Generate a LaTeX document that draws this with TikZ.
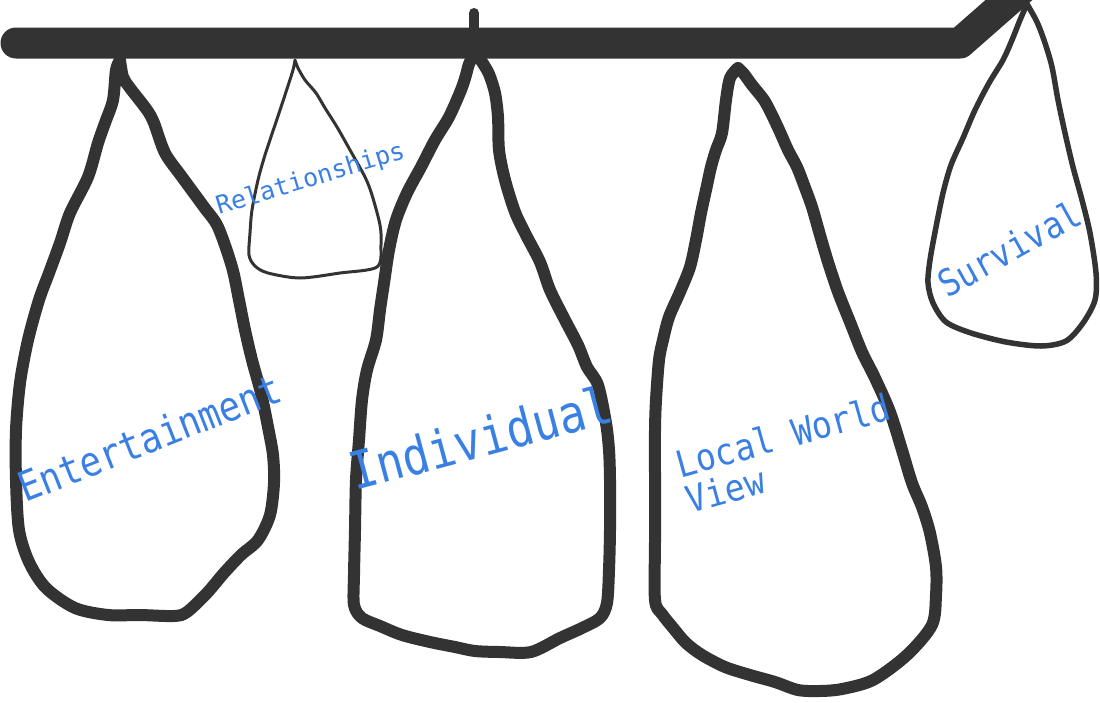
\documentclass[tikz,border=0pt]{standalone}
\usepackage{fontspec}
\usepackage{tikz}
\newfontfamily\handfont{DejaVu Sans Mono}
\definecolor{ink}{RGB}{51,51,51}
\definecolor{label}{RGB}{58,128,228}

\begin{document}
\begin{tikzpicture}[x=1pt, y=-1pt,
	bag/.style={draw=ink, line width=12pt, line join=round, line cap=round},
	thinbag/.style={draw=ink, line width=3pt, line join=round, line cap=round},
	word/.style={text=label, inner sep=0pt, anchor=base west}]
	%frame
	\useasboundingbox (0,0) rectangle (1100,702);
	\fill[white] (0,0) rectangle (1100,702);
	%pole and peg
	\draw[ink, line width=31pt, line cap=round, line join=round] (16,43) -- (960,43) -- (1009,0) -- (1045,-32);
	\draw[ink, line width=10pt, line cap=round] (474,13) -- (474,43);
	%entertainment bag
	\draw[bag] plot[smooth] coordinates {(120,60) (116,70) (113,100) (105,123) (98,143) (88,177) (70,213) (60,243) (49,273) (39,300) (28,340) (20,383) (16,430) (16,480) (19,530) (29,562) (46,588) (75,608) (108,615) (140,615) (174,616) (187,612) (207,593) (224,573) (241,555) (258,540) (270,515) (274,483) (273,455) (268,427) (261,393) (252,360) (245,330) (239,300) (232,267) (218,227) (204,207) (182,177) (165,153) (154,123) (147,110) (130,88) (123,77) (120,60)};
	%relationships bag
	\draw[thinbag] plot[smooth] coordinates {(295,60) (293,70) (285,95) (275,125) (265,155) (258,180) (252,210) (250,233) (249,255) (255,266) (268,273) (300,278) (340,273) (377,267) (381,245) (380,225) (372,195) (365,177) (350,150) (337,127) (325,108) (316,93) (305,80) (298,68) (295,60)};
	%individual bag
	\draw[bag] plot[smooth] coordinates {(475,52) (469,64) (466,75) (461,90) (449,117) (435,140) (421,167) (407,193) (396,220) (389,250) (384,283) (380,310) (376,340) (367,370) (362,400) (359,440) (356,480) (355,530) (354,575) (354,605) (362,618) (380,626) (402,635) (430,642) (455,647) (475,651) (500,652) (531,652) (560,638) (582,628) (600,618) (607,603) (609,570) (610,530) (610,480) (609,450) (606,423) (598,385) (587,367) (578,345) (565,320) (550,290) (540,262) (526,235) (515,212) (505,180) (499,150) (498,117) (495,93) (489,74) (482,62) (475,52)};
	%local world view bag
	\draw[bag] plot[smooth] coordinates {(738,68) (730,78) (726,100) (722,133) (716,150) (711,167) (706,190) (701,213) (696,240) (690,267) (680,292) (669,317) (663,340) (659,360) (656,400) (655,430) (655,480) (655,540) (655,600) (662,614) (674,629) (686,643) (702,655) (725,667) (750,675) (775,682) (798,690) (820,691) (842,689) (873,680) (907,655) (932,625) (936,595) (936,567) (930,533) (922,507) (912,483) (902,450) (890,412) (875,378) (862,352) (850,322) (838,292) (828,262) (820,235) (812,207) (804,185) (797,167) (788,150) (780,132) (772,115) (764,100) (752,85) (744,74) (738,68)};
	%survival bag
	\draw[ink, line width=5.5pt, line join=round, line cap=round] plot[smooth] coordinates {(1027,4) (1020,20) (1012,40) (1003,60) (989,83) (975,110) (963,138) (951,165) (943,193) (936,227) (930,260) (928,283) (933,303) (946,322) (971,333) (1006,342) (1041,346) (1066,341) (1083,323) (1095,300) (1096,273) (1090,233) (1082,200) (1073,167) (1065,133) (1058,100) (1052,67) (1045,43) (1037,22) (1027,4)};
	%labels
	\node[word, rotate=21.5, xscale=0.87, font=\handfont\fontsize{41}{41}\selectfont] (ent) at (25,503) {Entertainment};
	\node[word, rotate=17, font=\handfont\fontsize{25}{25}\selectfont] (rel) at (219,215) {Relationships};
	\node[word, rotate=15, xscale=0.86, font=\handfont\fontsize{52}{52}\selectfont] (ind) at (355,491) {Individual};
	\node[word, rotate=15.5, xscale=0.9, align=left, font=\handfont\fontsize{37}{37}\selectfont] (lwv) at (690,514) {Local World\\View};
	\node[word, rotate=29, xscale=0.88, font=\handfont\fontsize{37}{37}\selectfont] (surv) at (947,299) {Survival};
\end{tikzpicture}
\end{document}
